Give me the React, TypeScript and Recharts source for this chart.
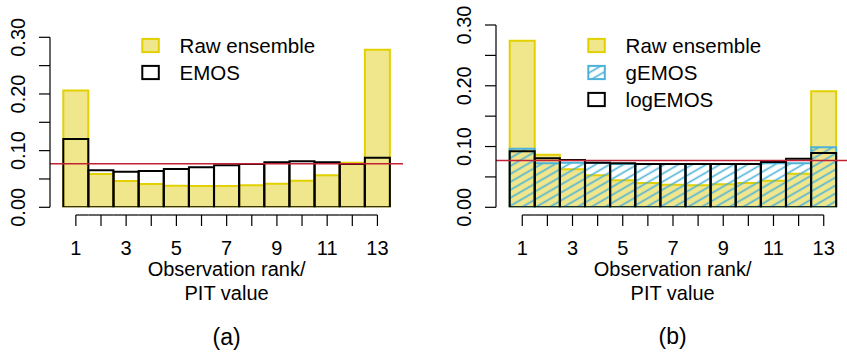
import React from "react";
import { ComposedChart, Bar, XAxis, YAxis, ReferenceLine } from "recharts";

// rank histogram / PIT values
const ranks = ["1", "2", "3", "4", "5", "6", "7", "8", "9", "10", "11", "12", "13"];
const rawA = [0.206, 0.0588, 0.0464, 0.041, 0.038, 0.0376, 0.0376, 0.0388, 0.0417, 0.047, 0.0565, 0.0788, 0.278];
const emosA = [0.1205, 0.0653, 0.0629, 0.064, 0.0676, 0.0705, 0.074, 0.0765, 0.0794, 0.0811, 0.0794, 0.0764, 0.0876];
const rawB = [0.274, 0.0866, 0.0625, 0.0526, 0.0444, 0.04, 0.0372, 0.0362, 0.0378, 0.04, 0.0438, 0.0553, 0.191];
const gemosB = [0.0964, 0.0724, 0.0734, 0.0734, 0.0712, 0.0712, 0.0712, 0.0712, 0.0712, 0.0712, 0.0724, 0.0724, 0.0987];
const logemosB = [0.0921, 0.0806, 0.0778, 0.0734, 0.0724, 0.0712, 0.0712, 0.0712, 0.0712, 0.0712, 0.0745, 0.08, 0.0893];
const yTicks = [0, 0.05, 0.1, 0.15, 0.2, 0.25, 0.3];
const uniformLevel = 0.0769;

const FONT = "'Liberation Sans', Arial, Helvetica, sans-serif";
const YELLOW_FILL = "#F0E68C";
const YELLOW_LINE = "#E3D000";
const BLUE = "#4DB2D8";
const RED = "#C22035";

type Series = { key: string; name: string; values: number[]; fill: string; stroke: string };

function XTick(props: any) {
  const { x, y, payload, index, band } = props;
  const h = band / 2;
  const x1 = index === 0 ? x : x - h;
  const x2 = index === ranks.length - 1 ? x : x + h;
  const v = Number(payload.value);
  return (
    <g>
      <line x1={x1} x2={x2} y1={y + 7.7} y2={y + 7.7} stroke="#000" strokeWidth={1.2} />
      <line x1={x} x2={x} y1={y + 7.7} y2={y + 18.7} stroke="#000" strokeWidth={1.2} />
      {v % 2 === 1 && (
        <text x={x} y={y + 47.7} textAnchor="middle" fontSize={20} fontFamily={FONT} fill="#000">
          {payload.value}
        </text>
      )}
    </g>
  );
}

function YTick(props: any) {
  const { x, y, payload } = props;
  const v = Number(payload.value);
  if (Math.round(v * 100) % 10 !== 0) return <g />;
  const bx = x - 14;
  return (
    <text x={bx} y={y} transform={`rotate(-90 ${bx} ${y})`} textAnchor="middle" fontSize={20} fontFamily={FONT} fill="#000">
      {v.toFixed(2)}
    </text>
  );
}

function Panel({
  left, top, plotW, plotH, padL, padR, series, tag,
}: {
  left: number; top: number; plotW: number; plotH: number; padL: number; padR: number; series: Series[]; tag: string;
}) {
  const data = ranks.map((r, i) => {
    const row: any = { rank: r };
    series.forEach((s) => (row[s.key] = s.values[i]));
    return row;
  });
  const band = (plotW - padL - padR) / ranks.length;
  const axisH = 352 - top - plotH;

  return (
    <div style={{ position: "absolute", left, top: 0 }}>
      <ComposedChart
        width={50 + plotW}
        height={352}
        data={data}
        margin={{ top, right: 0, bottom: 0, left: 0 }}
        barCategoryGap={0}
        barGap={0}
      >
        <defs>
          <pattern id={`hatch-${tag}`} patternUnits="userSpaceOnUse" width={10} height={6.9} patternTransform="rotate(-30)">
            <line x1={0} y1={3.45} x2={10} y2={3.45} stroke={BLUE} strokeWidth={1.6} />
          </pattern>
        </defs>
        {/* one x axis per series so the bars overlap; only the first is shown */}
        {series.map((s, i) => (
          <XAxis
            key={s.key}
            xAxisId={`x${i}`}
            dataKey="rank"
            hide={i > 0}
            height={i > 0 ? 0 : axisH}
            padding={{ left: padL, right: padR }}
            axisLine={false}
            tickLine={false}
            tickSize={0}
            tickMargin={0}
            interval={0}
            tick={(p: any) => <XTick {...p} band={band} />}
          />
        ))}
        <YAxis
          width={50}
          domain={[0, 0.3]}
          ticks={yTicks}
          allowDataOverflow
          tickSize={11}
          tickMargin={0}
          axisLine={{ stroke: "#000", strokeWidth: 1.2 }}
          tickLine={{ stroke: "#000", strokeWidth: 1.2 }}
          tick={<YTick />}
        />
        {series.map((s, i) => (
          <Bar
            key={s.key}
            xAxisId={`x${i}`}
            dataKey={s.key}
            name={s.name}
            fill={s.fill === "hatch" ? `url(#hatch-${tag})` : s.fill}
            stroke={s.stroke}
            strokeWidth={2}
            isAnimationActive={false}
          />
        ))}
        <ReferenceLine xAxisId="x0" y={uniformLevel} stroke={RED} strokeWidth={1.6} />

        {/* legend */}
        {series.map((s, i) => {
          const cy = 45.5 + i * 27;
          return (
            <g key={`lg-${s.key}`}>
              <rect
                x={142.3}
                y={cy - 6.6}
                width={16.5}
                height={13.2}
                fill={s.fill === "hatch" ? `url(#hatch-${tag})` : s.fill}
                stroke={s.stroke}
                strokeWidth={2}
              />
              <text x={179.6} y={cy + 7.2} fontSize={20.5} fontFamily={FONT} fill="#000">
                {s.name}
              </text>
            </g>
          );
        })}

        {/* axis title and panel tag */}
        <text x={226.6} y={276} textAnchor="middle" fontSize={20} fontFamily={FONT} fill="#000">
          Observation rank/
        </text>
        <text x={226.6} y={300} textAnchor="middle" fontSize={20} fontFamily={FONT} fill="#000">
          PIT value
        </text>
        <text x={226.6} y={344.5} textAnchor="middle" fontSize={23} fontFamily={FONT} fill="#000">
          {`(${tag})`}
        </text>
      </ComposedChart>
    </div>
  );
}

export default function App() {
  const seriesA: Series[] = [
    { key: "raw", name: "Raw ensemble", values: rawA, fill: YELLOW_FILL, stroke: YELLOW_LINE },
    { key: "emos", name: "EMOS", values: emosA, fill: "none", stroke: "#000" },
  ];
  const seriesB: Series[] = [
    { key: "raw", name: "Raw ensemble", values: rawB, fill: YELLOW_FILL, stroke: YELLOW_LINE },
    { key: "gemos", name: "gEMOS", values: gemosB, fill: "hatch", stroke: BLUE },
    { key: "logemos", name: "logEMOS", values: logemosB, fill: "none", stroke: "#000" },
  ];

  return (
    <div
      style={{
        position: "absolute",
        left: 0,
        top: 0,
        width: 847,
        height: 352,
        overflow: "hidden",
        background: "#fff",
      }}
    >
      <Panel left={0} top={37.3} plotW={353} plotH={170} padL={13.3} padR={13} series={seriesA} tag="a" />
      <Panel left={446} top={25} plotW={353.4} plotH={182.3} padL={13.7} padR={13.1} series={seriesB} tag="b" />
    </div>
  );
}
